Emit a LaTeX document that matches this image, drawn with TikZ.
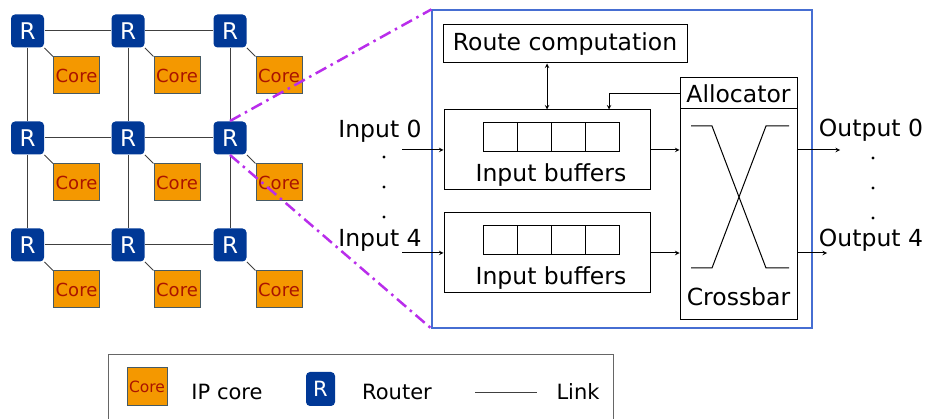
\documentclass[tikz,border=0pt]{standalone}
\usepackage{fontspec}
\setmainfont{DejaVu Sans}
\usetikzlibrary{calc}

\definecolor{azulR}{RGB}{0,56,150}
\definecolor{azulC}{RGB}{70,110,210}
\definecolor{laranja}{RGB}{244,152,0}
\definecolor{vermelho}{RGB}{170,20,0}
\definecolor{cinzaN}{RGB}{70,90,100}
\definecolor{roxo}{RGB}{185,45,235}

\begin{document}
\begin{tikzpicture}[>=stealth,x=1pt,y=-1pt,line width=1pt,
	every node/.style={font=\fontsize{23.5}{28}\selectfont},
	roteador/.style={fill=azulR,rounded corners=4pt,minimum width=33,minimum height=33,inner sep=0pt,text=white,font=\fontsize{23}{27}\selectfont},
	nucleo/.style={draw=cinzaN,fill=laranja,minimum width=46,minimum height=37,inner sep=0pt,text=vermelho,font=\fontsize{18}{21}\selectfont},
	caixa/.style={draw,inner sep=0pt},
	ligacao/.style={draw=black!75,line width=1pt},
	zoomlinha/.style={draw=roxo,line width=2.5pt,dash pattern=on 12pt off 5pt on 2.5pt off 5pt}]
	
	\useasboundingbox (0,0) rectangle (927,419);
	
	% roteadores da malha 3x3
	\node[roteador] (r11) at (27.5,31) {R};
	\node[roteador] (r12) at (128,31) {R};
	\node[roteador] (r13) at (230,31) {R};
	\node[roteador] (r21) at (27.5,138) {R};
	\node[roteador] (r22) at (128,138) {R};
	\node[roteador] (r23) at (230,138) {R};
	\node[roteador] (r31) at (27.5,245) {R};
	\node[roteador] (r32) at (128,245) {R};
	\node[roteador] (r33) at (230,245) {R};
	
	% nucleos (IP cores)
	\node[nucleo] (c11) at (76.5,75.5) {Core};
	\node[nucleo] (c12) at (177,75.5) {Core};
	\node[nucleo] (c13) at (279,75.5) {Core};
	\node[nucleo] (c21) at (76.5,182.5) {Core};
	\node[nucleo] (c22) at (177,182.5) {Core};
	\node[nucleo] (c23) at (279,182.5) {Core};
	\node[nucleo] (c31) at (76.5,289.5) {Core};
	\node[nucleo] (c32) at (177,289.5) {Core};
	\node[nucleo] (c33) at (279,289.5) {Core};
	
	% ligacoes horizontais e verticais
	\draw[ligacao] (r11) -- (r12); \draw[ligacao] (r12) -- (r13);
	\draw[ligacao] (r21) -- (r22); \draw[ligacao] (r22) -- (r23);
	\draw[ligacao] (r31) -- (r32); \draw[ligacao] (r32) -- (r33);
	\draw[ligacao] (r11) -- (r21); \draw[ligacao] (r21) -- (r31);
	\draw[ligacao] (r12) -- (r22); \draw[ligacao] (r22) -- (r32);
	\draw[ligacao] (r13) -- (r23); \draw[ligacao] (r23) -- (r33);
	
	% roteador -> nucleo
	\draw[ligacao] (r11.south east) -- (c11.north west);
	\draw[ligacao] (r12.south east) -- (c12.north west);
	\draw[ligacao] (r13.south east) -- (c13.north west);
	\draw[ligacao] (r21.south east) -- (c21.north west);
	\draw[ligacao] (r22.south east) -- (c22.north west);
	\draw[ligacao] (r23.south east) -- (c23.north west);
	\draw[ligacao] (r31.south east) -- (c31.north west);
	\draw[ligacao] (r32.south east) -- (c32.north west);
	\draw[ligacao] (r33.south east) -- (c33.north west);
	
	% caixa do roteador ampliado
	\node[draw=azulC,line width=1.2pt,minimum width=380,minimum height=318,inner sep=0pt] (caixaR) at (622,169) {};
	
	% calculo de rota
	\node[caixa,minimum width=244,minimum height=38] (rota) at (565,44) {Route computation};
	
	% buffers de entrada
	\node[caixa,minimum width=206,minimum height=80] (buf1) at (547,150) {};
	\node[caixa,minimum width=34,minimum height=29] (b1a) at (500,137.5) {};
	\node[caixa,minimum width=34,minimum height=29] (b1b) at (534,137.5) {};
	\node[caixa,minimum width=34,minimum height=29] (b1c) at (568,137.5) {};
	\node[caixa,minimum width=34,minimum height=29] (b1d) at (602,137.5) {};
	\node (tbuf1) at (551,175) {Input buffers};
	
	\node[caixa,minimum width=206,minimum height=80] (buf2) at (547,253) {};
	\node[caixa,minimum width=34,minimum height=29] (b2a) at (500,240.5) {};
	\node[caixa,minimum width=34,minimum height=29] (b2b) at (534,240.5) {};
	\node[caixa,minimum width=34,minimum height=29] (b2c) at (568,240.5) {};
	\node[caixa,minimum width=34,minimum height=29] (b2d) at (602,240.5) {};
	\node (tbuf2) at (551,278) {Input buffers};
	
	% alocador e crossbar
	\node[caixa,minimum width=117,minimum height=31] (aloc) at (738.5,93.5) {Allocator};
	\node[caixa,minimum width=117,minimum height=211] (xbar) at (738.5,214.5) {};
	\node (txbar) at (738.5,297) {Crossbar};
	\draw (691,126) -- (712,126) -- (766,268) -- (789,268);
	\draw (691,268) -- (712,268) -- (766,126) -- (789,126);
	
	% setas internas
	\draw[<->] (buf1.north) -- (buf1.north |- rota.south);
	\draw[->] (aloc.west) -| ($(buf1.north west)!0.8!(buf1.north east)$);
	\draw[->] (buf1.east) -- (buf1.east -| xbar.west);
	\draw[->] (buf2.east) -- (buf2.east -| xbar.west);
	
	% entradas
	\coordinate (in0) at (402,150);
	\coordinate (in4) at (402,253);
	\draw[->] (in0) -- (buf1.west);
	\draw[->] (in4) -- (buf2.west);
	\node (tin0) at (380,131) {Input 0};
	\node (tin4) at (380,240) {Input 4};
	\fill (384,157) circle (1.6);
	\fill (384,187) circle (1.6);
	\fill (384,217) circle (1.6);
	
	% saidas
	\coordinate (out0) at (840,150);
	\coordinate (out4) at (827,253);
	\draw[->] (out0 -| xbar.east) -- (out0);
	\draw[->] (out4 -| xbar.east) -- (out4);
	\node (tout0) at (871,130) {Output 0};
	\node (tout4) at (871,240) {Output 4};
	\fill (873,158) circle (1.6);
	\fill (873,188) circle (1.6);
	\fill (873,218) circle (1.6);
	
	% linhas de ampliacao
	\draw[zoomlinha] (r23.north) -- (caixaR.north west);
	\draw[zoomlinha] (r23.south) -- (caixaR.south west);
	
	% legenda
	\draw[draw=black!60,line width=1pt] (108,355) rectangle (613,430);
	\node[nucleo,minimum width=40,minimum height=38,font=\fontsize{15.5}{18}\selectfont] (legcore) at (147,387) {Core};
	\node (tcore) at (227,392) {\fontsize{21}{25}\selectfont IP core};
	\node[roteador,minimum width=29,minimum height=34,font=\fontsize{21}{25}\selectfont] (legR) at (320.5,389) {R};
	\node (trot) at (397,392) {\fontsize{21}{25}\selectfont Router};
	\coordinate (linkA) at (475,393);
	\coordinate (linkB) at (537,393);
	\draw[ligacao] (linkA) -- (linkB);
	\node (tlink) at (578,392) {\fontsize{21}{25}\selectfont Link};
	
\end{tikzpicture}
\end{document}
